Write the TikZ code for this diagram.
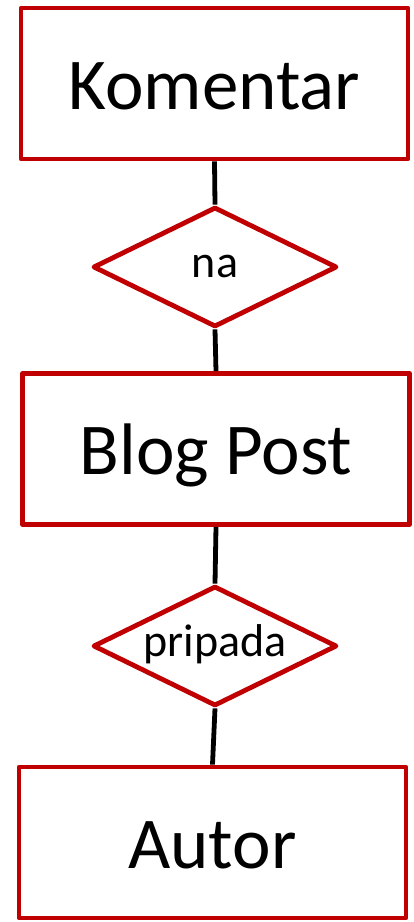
\documentclass[tikz,border=0pt]{standalone}
\usepackage{fontspec}
\setmainfont{Carlito}
\usetikzlibrary{shapes.geometric}
\definecolor{erred}{RGB}{192,0,0}
\tikzset{
  entity/.style={draw=erred, line width=4.8pt, line join=round, rectangle,
    minimum width=387pt, minimum height=151pt, inner sep=0pt,
    font=\fontsize{73}{80}\selectfont, text height=51pt, text depth=0pt},
  relation/.style={draw=erred, line width=4.8pt, line join=round, diamond,
    minimum width=244pt, minimum height=120pt, inner sep=0pt},
  rellabel/.style={font=\fontsize{46}{52}\selectfont, inner sep=0pt,
    text height=21pt, text depth=0pt},
  conn/.style={draw=black, line width=4.8pt}
}
\begin{document}
\begin{tikzpicture}[x=1pt,y=-1pt]
\useasboundingbox (0,0) rectangle (414,922);
\node[entity] (kom) at (214.5,83.5) {Komentar};
\node[relation, label={[rellabel]center:na}] (na) at (215,267) {};
\node[entity] (blog) at (216,449) {Blog Post};
\node[relation, label={[rellabel]center:pripada}] (prip) at (215,646) {};
\node[entity] (autor) at (212.5,842.5) {Autor};
\draw[conn] (kom.south) -- (na.north);
\draw[conn] (na.south) -- (blog.north);
\draw[conn] (blog.south) -- (prip.north);
\draw[conn] (prip.south) -- (autor.north);
\end{tikzpicture}
\end{document}
